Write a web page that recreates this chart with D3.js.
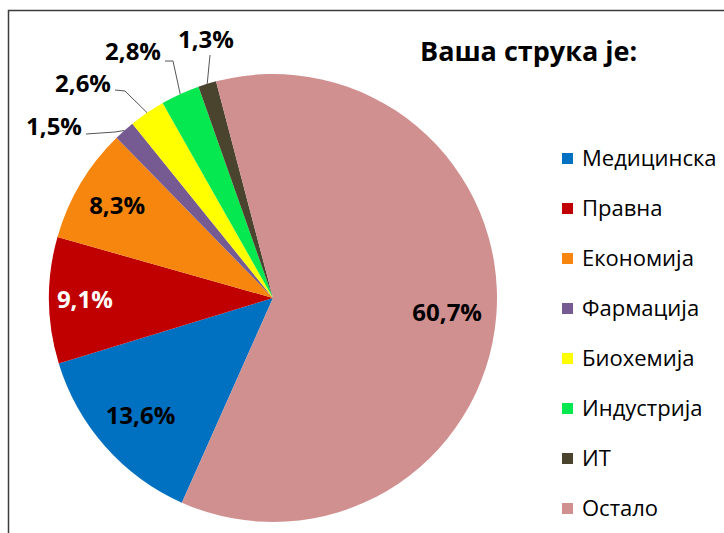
<!DOCTYPE html>
<html>
<head>
<meta charset="utf-8">
<script src="https://d3js.org/d3.v7.min.js"></script>
<style>
  body { margin: 0; background: #fff; }
  svg { display: block; font-family: "Open Sans", sans-serif; }
</style>
</head>
<body>
<script>
// Ваша струка је: (survey share by profession)
var categories = ["Медицинска", "Правна", "Економија", "Фармација", "Биохемија", "Индустрија", "ИТ", "Остало"],
    values = [13.6, 9.1, 8.3, 1.5, 2.6, 2.8, 1.3, 60.7],
    colors = ["#0070c0", "#c00000", "#f7860f", "#765a92", "#ffff00", "#05e84f", "#4a432e", "#d09090"],
    // which labels sit outside with a leader line
    outside = [false, false, false, true, true, true, true, false],
    labelColors = ["#000", "#fff", "#000", "#000", "#000", "#000", "#000", "#000"];

var width = 724,
    height = 533,
    cx = 273,
    cy = 298,
    radius = 224,
    startDeg = 204;

// label distance from centre, as a share of the radius
var labelRadius = [0.79, 0.84, 0.81, 0, 0, 0, 0, 0.78];

// leader line layout for the outside labels, relative to pie centre
var callouts = {
  3: {elbow: [-158, -166], end: [-187, -164], text: [-191, -163], anchor: "end"},
  4: {elbow: [-148, -207], end: [-158, -208], text: [-162, -206], anchor: "end"},
  5: {elbow: [-100, -237], end: [-108, -237], text: [-112, -238], anchor: "end"},
  6: {elbow: [-63, -243], end: [-63, -243], text: [-67, -250], anchor: "middle"}
};

var fmt = function(v) { return v.toFixed(1).replace(".", ",") + "%"; };

var svg = d3.select("body").append("svg")
    .attr("width", width)
    .attr("height", height);

// chart area border (runs off the right and bottom of the picture)
svg.append("rect")
    .attr("x", 8.5)
    .attr("y", 10.5)
    .attr("width", width + 20)
    .attr("height", height + 20)
    .attr("fill", "none")
    .attr("stroke", "#3c3c3c")
    .attr("stroke-width", 1.5);

var pie = d3.pie()
    .sort(null)
    .startAngle(startDeg * Math.PI / 180)
    .endAngle((startDeg + 360) * Math.PI / 180);

var arcs = pie(values);

var arc = d3.arc().innerRadius(0).outerRadius(radius),
    edgeArc = d3.arc().innerRadius(radius).outerRadius(radius);

function labelPos(d) {
  var k = radius * labelRadius[d.index];
  return d3.arc().innerRadius(k).outerRadius(k).centroid(d);
}

var g = svg.append("g").attr("transform", "translate(" + cx + "," + cy + ")");

g.selectAll("path.slice")
  .data(arcs)
  .enter().append("path")
    .attr("class", "slice")
    .attr("d", arc)
    .attr("fill", function(d, i) { return colors[i]; });

// inside labels
g.selectAll("text.inside")
  .data(arcs.filter(function(d, i) { return !outside[i]; }))
  .enter().append("text")
    .attr("class", "inside")
    .attr("transform", function(d) { return "translate(" + labelPos(d) + ")"; })
    .attr("dy", "0.35em")
    .attr("text-anchor", "middle")
    .attr("font-size", 24)
    .attr("font-weight", "bold")
    .attr("fill", function(d) { return labelColors[d.index]; })
    .text(function(d) { return fmt(d.data); });

// outside labels with leader lines
var outs = arcs.filter(function(d, i) { return outside[i]; });

g.selectAll("polyline.leader")
  .data(outs)
  .enter().append("polyline")
    .attr("class", "leader")
    .attr("fill", "none")
    .attr("stroke", "#555")
    .attr("stroke-width", 1)
    .attr("points", function(d) {
      var c = callouts[d.index];
      return [edgeArc.centroid(d), c.elbow, c.end].map(function(p) { return p.join(","); }).join(" ");
    });

g.selectAll("text.outside")
  .data(outs)
  .enter().append("text")
    .attr("class", "outside")
    .attr("x", function(d) { return callouts[d.index].text[0]; })
    .attr("y", function(d) { return callouts[d.index].text[1]; })
    .attr("text-anchor", function(d) { return callouts[d.index].anchor; })
    .attr("font-size", 24)
    .attr("font-weight", "bold")
    .attr("fill", "#000")
    .text(function(d) { return fmt(d.data); });

// title
svg.append("text")
    .attr("x", 420)
    .attr("y", 61)
    .attr("font-size", 27)
    .attr("font-weight", "bold")
    .attr("fill", "#000")
    .text("Ваша струка је:");

// legend
var legend = svg.append("g").attr("transform", "translate(562,158)");

var item = legend.selectAll("g.item")
  .data(categories)
  .enter().append("g")
    .attr("class", "item")
    .attr("transform", function(d, i) { return "translate(0," + (i * 50) + ")"; });

item.append("rect")
    .attr("x", 0)
    .attr("y", -5)
    .attr("width", 11)
    .attr("height", 11)
    .attr("fill", function(d, i) { return colors[i]; });

item.append("text")
    .attr("x", 20)
    .attr("y", 0)
    .attr("dy", "0.35em")
    .attr("font-size", 22)
    .attr("fill", "#000")
    .text(function(d) { return d; });
</script>
</body>
</html>
